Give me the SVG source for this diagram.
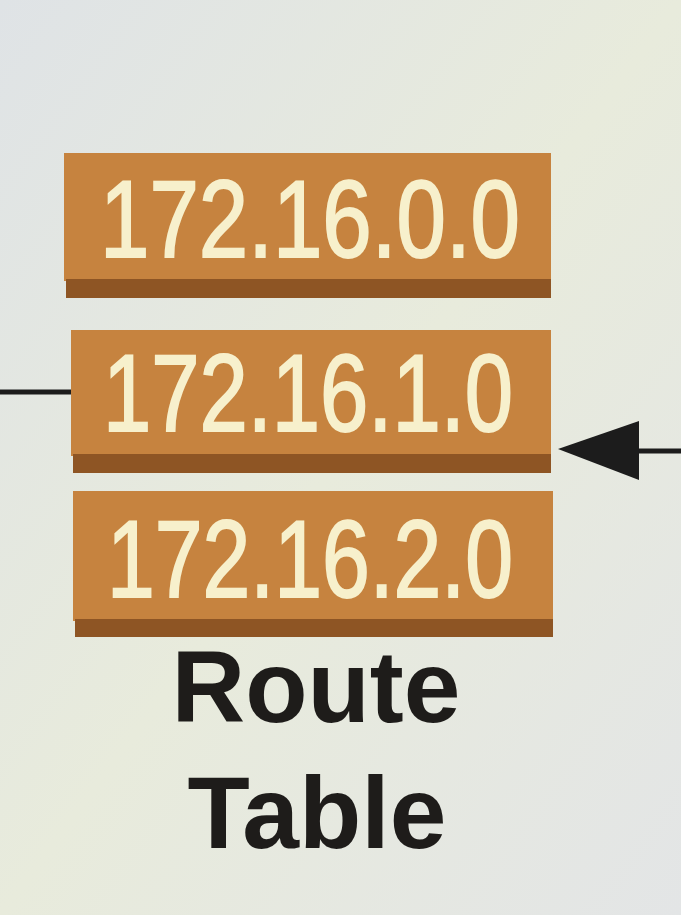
<svg xmlns="http://www.w3.org/2000/svg" width="681" height="915" viewBox="0 0 681 915">
  <defs>
    <linearGradient id="bg" x1="0" y1="0" x2="1" y2="1">
      <stop offset="0" stop-color="#dfe3e6"/>
      <stop offset="0.5" stop-color="#e8ebdc"/>
      <stop offset="1" stop-color="#e3e5e6"/>
    </linearGradient>
    <style>
      .face { fill: #c6833f; }
      .edge { fill: #8e5524; }
      .ip { font-family: "Liberation Sans", Arial, sans-serif; font-size: 110px; fill: #f7f0cc; stroke: #f7f0cc; stroke-width: 2; }
      .lbl { font-family: "Liberation Sans", Arial, sans-serif; font-weight: bold; font-size: 102px; fill: #1e1c1a; text-anchor: middle; }
      .conn { stroke: #1c1c1c; stroke-width: 5; fill: none; }
    </style>
  </defs>
  <rect width="681" height="915" fill="url(#bg)"/>

  <g id="connectors">
    <line class="conn" x1="0" y1="392" x2="72" y2="392"/>
    <line class="conn" x1="681" y1="451" x2="636" y2="451"/>
    <path d="M558,449 L639,421 L639,480 Z" fill="#1c1c1c"/>
  </g>

  <g id="route-0">
    <rect class="face" x="64" y="153" width="487" height="128"/>
    <rect class="edge" x="66" y="279" width="485" height="19"/>
    <text class="ip" x="100" y="257" textLength="420" lengthAdjust="spacingAndGlyphs">172.16.0.0</text>
  </g>

  <g id="route-1">
    <rect class="face" x="71" y="330" width="480" height="126"/>
    <rect class="edge" x="73" y="454" width="478" height="19"/>
    <text class="ip" x="103" y="431" textLength="410" lengthAdjust="spacingAndGlyphs">172.16.1.0</text>
  </g>

  <g id="route-2">
    <rect class="face" x="73" y="491" width="480" height="130"/>
    <rect class="edge" x="75" y="619" width="478" height="18"/>
    <text class="ip" x="107" y="597" textLength="406" lengthAdjust="spacingAndGlyphs">172.16.2.0</text>
  </g>

  <g id="label">
    <text class="lbl" x="316" y="722">Route</text>
    <text class="lbl" x="317" y="848">Table</text>
  </g>
</svg>
